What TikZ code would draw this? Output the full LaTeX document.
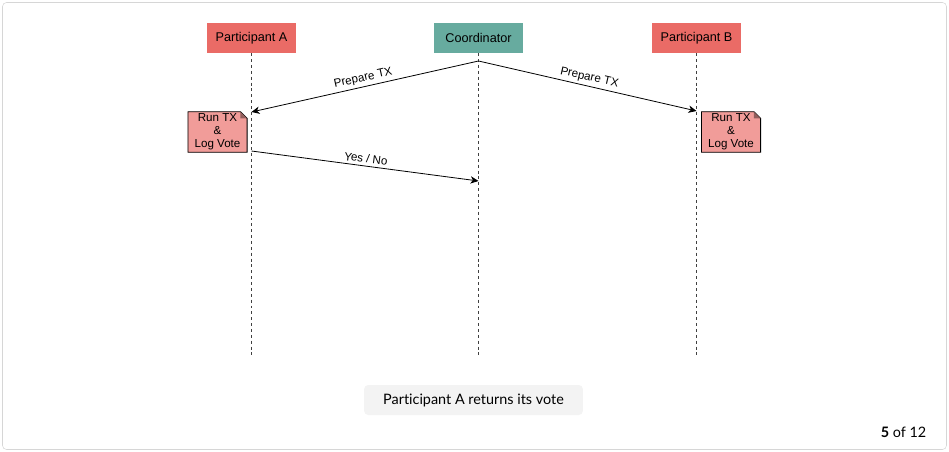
\documentclass[tikz,border=0pt]{standalone}
\usepackage{fontspec}
\setmainfont{Liberation Sans}
\newfontfamily\captionfont[Ligatures=NoCommon]{Lato}
\usetikzlibrary{arrows.meta,positioning,backgrounds}
\definecolor{partred}{HTML}{EA6B66}
\definecolor{coordgreen}{HTML}{67AB9F}
\definecolor{notepink}{HTML}{F19C99}
\definecolor{capgray}{HTML}{F3F3F3}
\definecolor{framegray}{HTML}{D6D6D6}
\tikzset{
  actor/.style={fill=#1, minimum width=67pt, minimum height=22.5pt, inner sep=0pt,
    font=\fontsize{9.5}{11}\selectfont},
  votenote/.style={minimum width=44pt, minimum height=30pt, inner sep=0pt, align=center,
    font=\fontsize{8.7}{9.9}\selectfont},
  lifeline/.style={dash pattern=on 2.2pt off 2.2pt, line width=0.75pt, gray!50!black},
  msgarrow/.style={-{Stealth[length=6pt,width=5.5pt,inset=1.8pt]}, line width=0.6pt},
  msglabel/.style={font=\fontsize{8.7}{10}\selectfont, sloped, above, inner sep=2pt}
}
\begin{document}
\begin{tikzpicture}[x=0.75pt, y=-0.75pt]
  \useasboundingbox (0,0) rectangle (949,452);
  \draw[framegray, rounded corners=3pt] (2.5,2.5) rectangle (946.5,449.5);

  % actors
  \node[actor=partred] (pa) at (251.5,38) {Participant A};
  \node[actor=coordgreen] (co) at (478.5,38) {Coordinator};
  \node[actor=partred] (pb) at (696.5,38) {Participant B};

  % lifelines
  \coordinate (aend) at (251.5,358);
  \coordinate (cend) at (478.5,358);
  \coordinate (bend) at (696.5,358);
  \draw[lifeline] (pa) -- (aend);
  \draw[lifeline] (co) -- (cend);
  \draw[lifeline] (pb) -- (bend);

  % message points
  \coordinate (c1) at (478.5,61);
  \coordinate (a1) at (251.5,112);
  \coordinate (b1) at (696.5,111);
  \coordinate (a2) at (251.5,151);
  \coordinate (c2) at (478.5,181);

  \draw[msgarrow] (c1) -- node[msglabel] {Prepare TX} (a1);
  \draw[msgarrow] (c1) -- node[msglabel] {Prepare TX} (b1);
  \draw[msgarrow] (a2) -- node[msglabel] {Yes / No} (c2);

  % notes
  \node[votenote] (na) at (217.5,132) {Run TX\\\&\\Log Vote};
  \node[votenote] (nb) at (731,132) {Run TX\\\&\\Log Vote};
  \begin{scope}[on background layer]
  \foreach \n in {na,nb}{
    \draw[fill=notepink, line width=0.6pt] (\n.north west) -- ([xshift=-5pt]\n.north east)
      -- ([yshift=-5pt]\n.north east) -- (\n.south east) -- (\n.south west) -- cycle;
    \fill[notepink!60!black] ([xshift=-5pt]\n.north east) -- ([xshift=-5pt,yshift=-5pt]\n.north east)
      -- ([yshift=-5pt]\n.north east) -- cycle;
  }
  \end{scope}

  % caption
  \node[fill=capgray, rounded corners=3pt, minimum width=164pt, minimum height=22.5pt,
    font=\captionfont\fontsize{10.8}{12}\selectfont] (cap) at (473.5,400) {Participant A returns its vote};
  \node[anchor=east, font=\captionfont\fontsize{10.8}{12}\selectfont] (pg) at (931,432)
    {\textbf{5} of 12};
\end{tikzpicture}
\end{document}
